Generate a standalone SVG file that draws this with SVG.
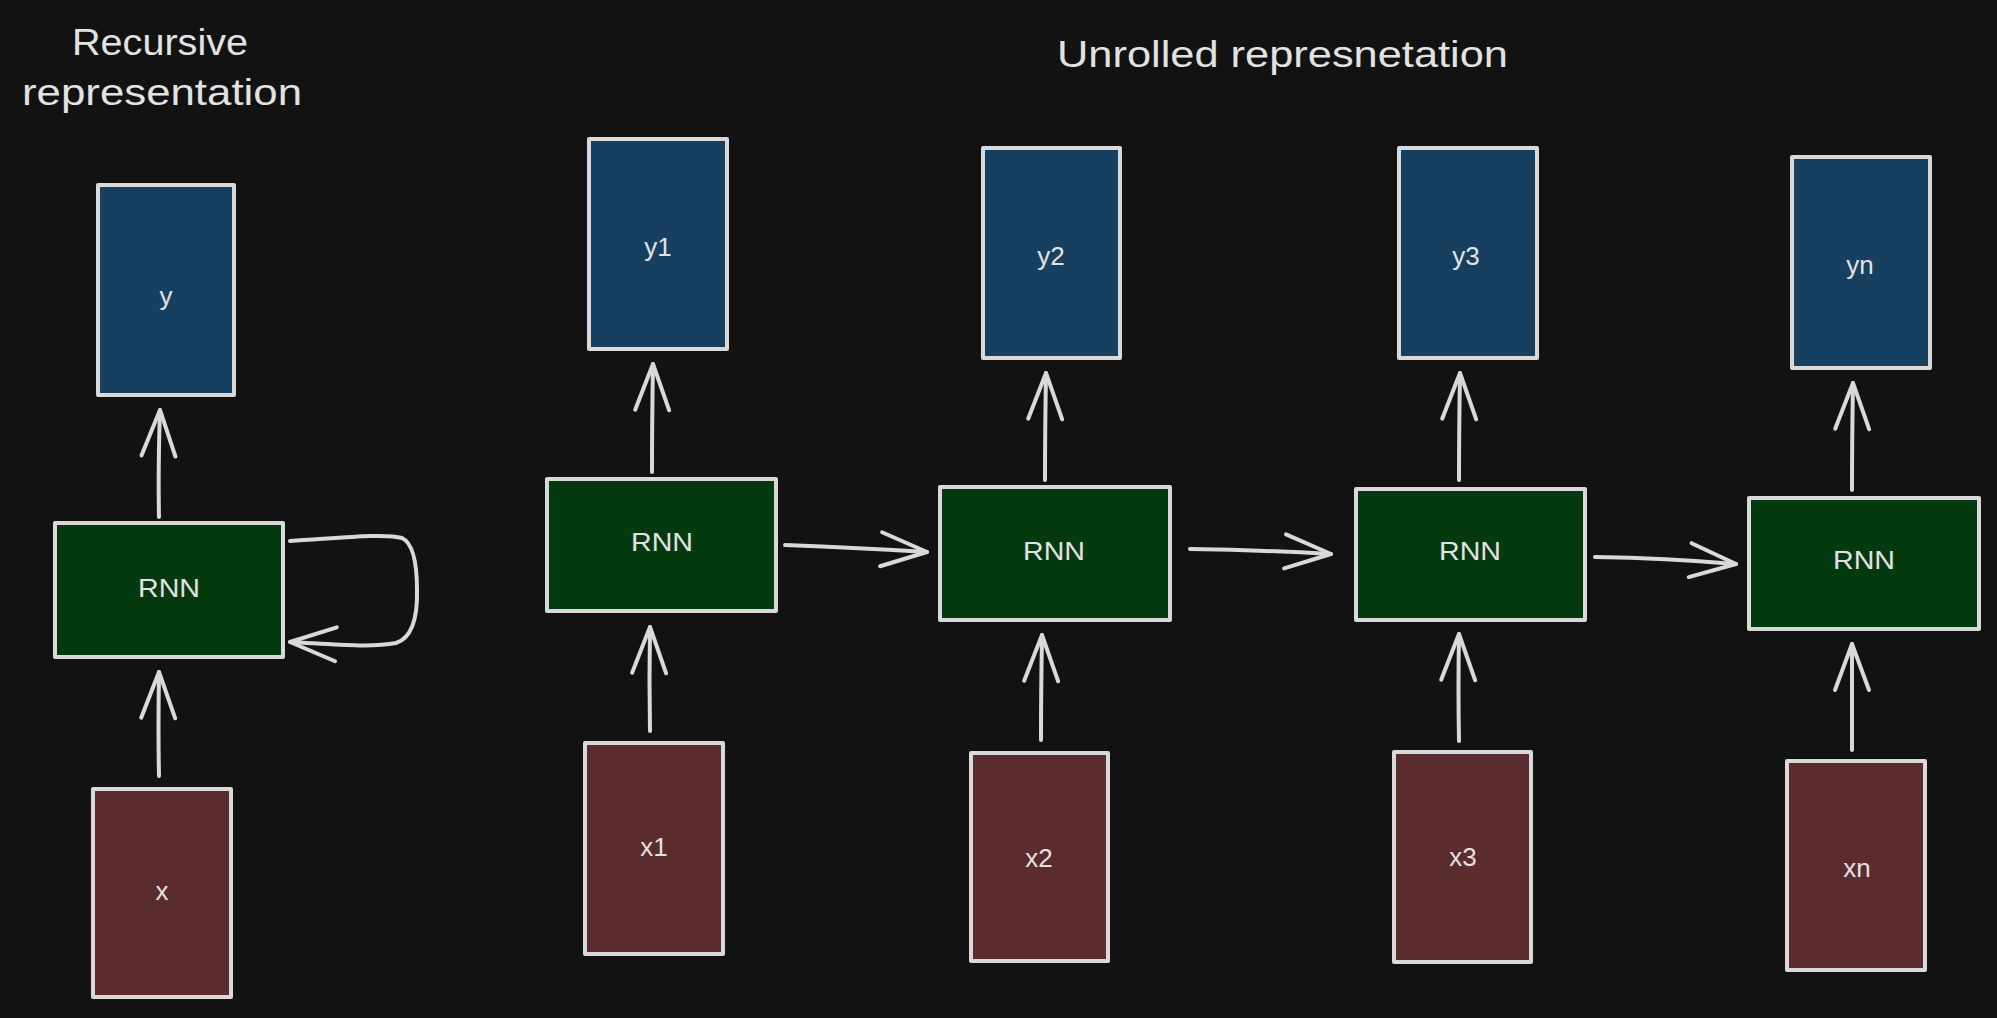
<svg xmlns="http://www.w3.org/2000/svg" width="1997" height="1018" viewBox="0 0 1997 1018">
<style>
.bg{fill:#121212}
.box{stroke:#d9d9d9;stroke-width:4;stroke-linejoin:round}
.out{fill:#173f5f}
.rnn{fill:#053a10}
.inp{fill:#5a2c2e}
.lbl{font-family:"Liberation Sans",Arial,sans-serif;font-size:26px;fill:#e2e2e2;text-anchor:middle}
.title{font-family:"Liberation Sans",Arial,sans-serif;font-size:36px;fill:#e2e2e2}
.conn{fill:none;stroke:#d9d9d9;stroke-width:4;stroke-linecap:round;stroke-linejoin:round}
</style>
<defs>
<marker id="ah" markerUnits="userSpaceOnUse" viewBox="-56 -24 62 48" markerWidth="62" markerHeight="48" refX="0" refY="0" orient="auto" overflow="visible">
<path d="M -46 -17 L 0 0 L -46 17" fill="none" stroke="#d9d9d9" stroke-width="4" stroke-linecap="round" stroke-linejoin="round"/>
</marker>
</defs>
<rect class="bg" x="0" y="0" width="1997" height="1018"/>
<g id="titles">
<text class="title" x="72" y="55" textLength="176" lengthAdjust="spacingAndGlyphs">Recursive</text>
<text class="title" x="22" y="105" textLength="280" lengthAdjust="spacingAndGlyphs">representation</text>
<text class="title" x="1057" y="67" textLength="451" lengthAdjust="spacingAndGlyphs">Unrolled represnetation</text>
</g>
<g id="rec-y"><rect class="box out" x="98" y="185" width="136" height="210"/><text class="lbl" x="166" y="305">y</text></g>
<g id="rec-rnn"><rect class="box rnn" x="55" y="523" width="228" height="134"/><text class="lbl" x="169" y="597" textLength="62" lengthAdjust="spacingAndGlyphs">RNN</text></g>
<g id="rec-x"><rect class="box inp" x="93" y="789" width="138" height="208"/><text class="lbl" x="162" y="900">x</text></g>

<g id="y1"><rect class="box out" x="589" y="139" width="138" height="210"/><text class="lbl" x="658" y="256">y1</text></g>
<g id="rnn1"><rect class="box rnn" x="547" y="479" width="229" height="132"/><text class="lbl" x="662" y="551" textLength="62" lengthAdjust="spacingAndGlyphs">RNN</text></g>
<g id="x1"><rect class="box inp" x="585" y="743" width="138" height="211"/><text class="lbl" x="654" y="856">x1</text></g>

<g id="y2"><rect class="box out" x="983" y="148" width="137" height="210"/><text class="lbl" x="1051" y="265">y2</text></g>
<g id="rnn2"><rect class="box rnn" x="940" y="487" width="230" height="133"/><text class="lbl" x="1054" y="560" textLength="62" lengthAdjust="spacingAndGlyphs">RNN</text></g>
<g id="x2"><rect class="box inp" x="971" y="753" width="137" height="208"/><text class="lbl" x="1039" y="867">x2</text></g>

<g id="y3"><rect class="box out" x="1399" y="148" width="138" height="210"/><text class="lbl" x="1466" y="265">y3</text></g>
<g id="rnn3"><rect class="box rnn" x="1356" y="489" width="229" height="131"/><text class="lbl" x="1470" y="560" textLength="62" lengthAdjust="spacingAndGlyphs">RNN</text></g>
<g id="x3"><rect class="box inp" x="1394" y="752" width="137" height="210"/><text class="lbl" x="1463" y="866">x3</text></g>

<g id="yn"><rect class="box out" x="1792" y="157" width="138" height="211"/><text class="lbl" x="1860" y="274">yn</text></g>
<g id="rnn4"><rect class="box rnn" x="1749" y="498" width="230" height="131"/><text class="lbl" x="1864" y="569" textLength="62" lengthAdjust="spacingAndGlyphs">RNN</text></g>
<g id="xn"><rect class="box inp" x="1787" y="761" width="138" height="209"/><text class="lbl" x="1857" y="877">xn</text></g>

<g id="connectors">
<path class="conn" marker-end="url(#ah)" d="M 159 517 Q 158 470 160 410"/>
<path class="conn" marker-end="url(#ah)" d="M 159 776 Q 158 730 159 672"/>
<path class="conn" marker-end="url(#ah)" d="M 290 541 C 340 538 385 533 402 538 Q 417 545 417 590 Q 418 636 396 643 C 370 648 330 644 290 642"/>

<path class="conn" marker-end="url(#ah)" d="M 652 472 Q 652 420 653 364"/>
<path class="conn" marker-end="url(#ah)" d="M 650 731 Q 649 680 650 627"/>
<path class="conn" marker-end="url(#ah)" d="M 785 545 Q 860 548 927 552"/>

<path class="conn" marker-end="url(#ah)" d="M 1045 480 Q 1045 430 1046 373"/>
<path class="conn" marker-end="url(#ah)" d="M 1041 740 Q 1041 690 1042 635"/>
<path class="conn" marker-end="url(#ah)" d="M 1190 549 Q 1260 550 1331 554"/>

<path class="conn" marker-end="url(#ah)" d="M 1459 480 Q 1459 430 1460 373"/>
<path class="conn" marker-end="url(#ah)" d="M 1459 741 Q 1458 690 1459 634"/>
<path class="conn" marker-end="url(#ah)" d="M 1595 557 Q 1665 558 1736 564"/>

<path class="conn" marker-end="url(#ah)" d="M 1852 490 Q 1852 440 1853 383"/>
<path class="conn" marker-end="url(#ah)" d="M 1852 750 Q 1852 700 1852 644"/>
</g>
</svg>
